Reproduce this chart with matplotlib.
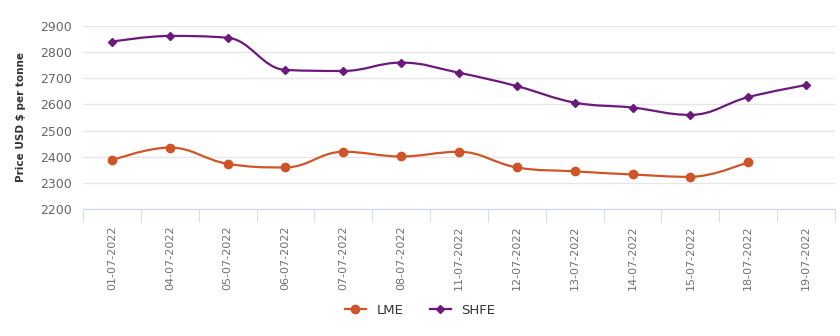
import numpy as np
import matplotlib.pyplot as plt
from matplotlib.path import Path
from matplotlib.patches import PathPatch
from matplotlib.lines import Line2D

dates = ["01-07-2022", "04-07-2022", "05-07-2022", "06-07-2022", "07-07-2022",
         "08-07-2022", "11-07-2022", "12-07-2022", "13-07-2022", "14-07-2022",
         "15-07-2022", "18-07-2022", "19-07-2022"]
lme = [2386, 2435, 2373, 2359, 2419, 2401, 2419, 2359, 2344, 2332, 2323, 2380]
shfe = [2840, 2862, 2855, 2732, 2728, 2760, 2721, 2670, 2607, 2588, 2560, 2628, 2674]

LME_COL = "#cf5528"
SHFE_COL = "#6b1a7c"


def spline_path(x, y, smoothing=1.5):
    # highcharts style spline: control points per point
    n = len(x)
    left = [(x[i], y[i]) for i in range(n)]
    right = [(x[i], y[i]) for i in range(n)]
    d = smoothing + 1
    for i in range(1, n - 1):
        lx = (smoothing * x[i] + x[i - 1]) / d
        ly = (smoothing * y[i] + y[i - 1]) / d
        rx = (smoothing * x[i] + x[i + 1]) / d
        ry = (smoothing * y[i] + y[i + 1]) / d
        if rx != lx:
            corr = (ry - ly) * (rx - x[i]) / (rx - lx) + y[i] - ry
            ly += corr
            ry += corr
        if ly > y[i - 1] and ly > y[i]:
            ly = max(y[i - 1], y[i])
            ry = 2 * y[i] - ly
        elif ly < y[i - 1] and ly < y[i]:
            ly = min(y[i - 1], y[i])
            ry = 2 * y[i] - ly
        if ry > y[i + 1] and ry > y[i]:
            ry = max(y[i + 1], y[i])
            ly = 2 * y[i] - ry
        elif ry < y[i + 1] and ry < y[i]:
            ry = min(y[i + 1], y[i])
            ly = 2 * y[i] - ry
        left[i] = (lx, ly)
        right[i] = (rx, ry)
    verts = [(x[0], y[0])]
    codes = [Path.MOVETO]
    for i in range(1, n):
        verts += [right[i - 1], left[i], (x[i], y[i])]
        codes += [Path.CURVE4] * 3
    return Path(verts, codes)


fig = plt.figure(figsize=(8.4, 3.36), dpi=100)
ax = fig.add_axes([83 / 840, 1 - 209 / 336, (835 - 83) / 840, (209 - 26) / 336])

xs = np.arange(len(dates))
for vals, col, mk, ms in [(lme, LME_COL, "o", 6), (shfe, SHFE_COL, "D", 4.2)]:
    xv = xs[:len(vals)]
    ax.add_patch(PathPatch(spline_path(list(xv), list(vals)), fill=False,
                           edgecolor=col, lw=1.6, zorder=3))
    ax.plot(xv, vals, ls="none", marker=mk, ms=ms, color=col, zorder=4)

ax.set_xlim(-0.5, len(dates) - 0.5)
ax.set_ylim(2200, 2900)
ax.set_yticks(range(2200, 3000, 100))
ax.grid(axis="y", color="#e6e6e6", lw=1)
ax.set_axisbelow(True)
for s in ["top", "right", "left"]:
    ax.spines[s].set_visible(False)
ax.spines["bottom"].set_color("#ccd6eb")
ax.tick_params(axis="y", length=0, labelsize=9, labelcolor="#666666", pad=8)

ax.set_xticks(xs)
ax.set_xticklabels(dates, rotation=90, fontsize=8, color="#707070", va="top")
ax.tick_params(axis="x", length=0, pad=12)
ax.set_xticks(np.arange(-0.5, len(dates), 1), minor=True)
ax.tick_params(axis="x", which="minor", length=9, color="#ccd6eb")

ax.set_ylabel("Price USD $ per tonne", fontsize=7.5, fontweight="bold",
              color="#333333", labelpad=10)

handles = [Line2D([0], [0], color=LME_COL, lw=1.6, marker="o", ms=6),
           Line2D([0], [0], color=SHFE_COL, lw=1.6, marker="D", ms=4.2)]
fig.legend(handles, ["LME", "SHFE"], loc="center", bbox_to_anchor=(0.5, 1 - 310 / 336),
           ncol=2, frameon=False, fontsize=9.5, handlelength=1.6, columnspacing=2,
           labelcolor="#333333")

fig.savefig("out.png", dpi=100)
